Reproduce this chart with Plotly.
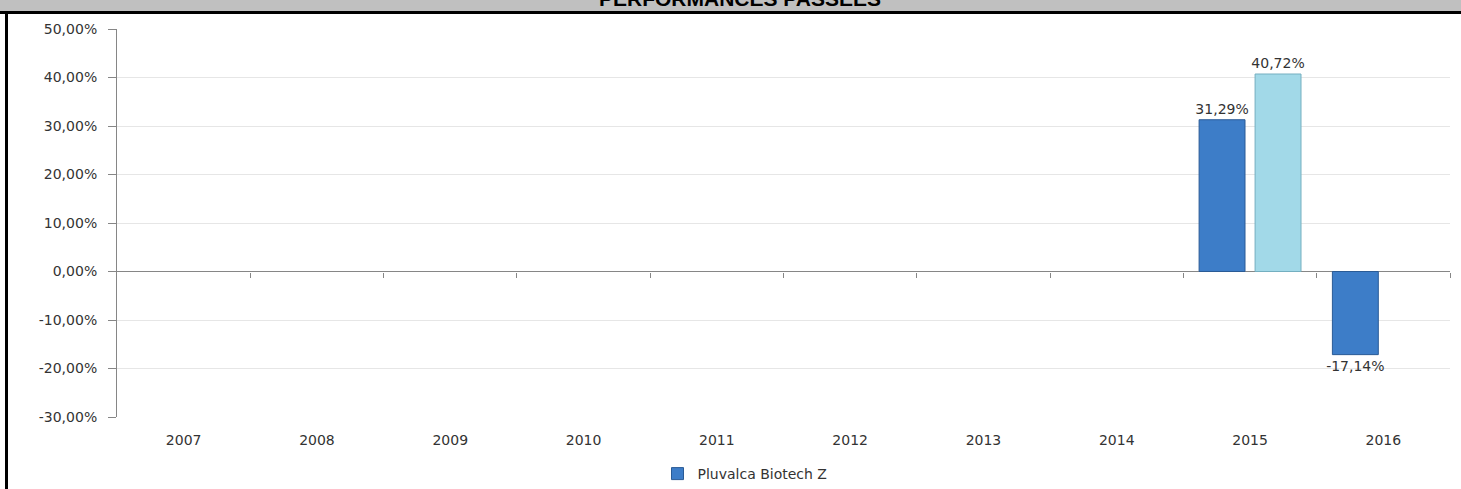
import plotly.graph_objects as go

years = ["2007", "2008", "2009", "2010", "2011", "2012", "2013", "2014", "2015", "2016"]
fund_values = [None, None, None, None, None, None, None, None, 31.29, -17.14]
second_values = [None, None, None, None, None, None, None, None, 40.72, None]
y_ticks = [-30, -20, -10, 0, 10, 20, 30, 40, 50]
y_tick_labels = ["-30,00%", "-20,00%", "-10,00%", "0,00%", "10,00%", "20,00%", "30,00%", "40,00%", "50,00%"]
boundaries = [i + 0.5 for i in range(len(years))]

W, H = 1461, 489
ML, MR, MT, MB = 117, 11, 29, 72
plot_h = H - MT - MB
plot_w = W - ML - MR


def py(p):
    return (H - MB - p) / plot_h


def px(p):
    return (p - ML) / plot_w


def fmt(v):
    return None if v is None else ("%.2f%%" % v).replace(".", ",")


FONT = "DejaVu Sans"

fig = go.Figure()
fig.add_trace(go.Bar(
    x=years, y=fund_values, name="Pluvalca Biotech Z",
    marker=dict(color="#3D7DC8", line=dict(color="#2A5B96", width=1)),
    text=[fmt(v) for v in fund_values], textposition="outside", constraintext="none",
    textfont=dict(family=FONT, size=14, color="#333333"),
    cliponaxis=False,
))
fig.add_trace(go.Bar(
    x=years, y=second_values, name="Indice", showlegend=False,
    marker=dict(color="#A2D9E8", line=dict(color="#74AFC0", width=1)),
    text=[fmt(v) for v in second_values], textposition="outside", constraintext="none",
    textfont=dict(family=FONT, size=14, color="#333333"),
    cliponaxis=False,
))
# helper trace for the boundary ticks axis on the zero line
fig.add_trace(go.Scatter(x=[], y=[], xaxis="x2", yaxis="y", showlegend=False, hoverinfo="skip"))

ymin, ymax = min(y_ticks), max(y_ticks)

fig.update_layout(
    width=W, height=H,
    margin=dict(l=ML, r=MR, t=MT, b=MB, autoexpand=False),
    paper_bgcolor="white", plot_bgcolor="white",
    barmode="group", bargap=0.16, bargroupgap=0.18,
    font=dict(family=FONT, size=14, color="#333333"),
    xaxis=dict(
        type="category", categoryorder="array", categoryarray=years,
        range=[-0.5, len(years) - 0.5],
        showline=False, showgrid=False, ticks="", zeroline=False,
        tickfont=dict(family=FONT, size=14, color="#333333"),
        ticklabelstandoff=13,
    ),
    xaxis2=dict(
        overlaying="x", anchor="free", position=(0 - ymin) / (ymax - ymin),
        range=[-0.5, len(years) - 0.5], type="linear",
        tickvals=boundaries, ticks="outside", ticklen=5, tickcolor="#868686",
        showticklabels=False, showgrid=False, showline=False, zeroline=False,
    ),
    yaxis=dict(
        range=[ymin, ymax], tickvals=y_ticks, ticktext=y_tick_labels,
        showline=True, linecolor="#868686", linewidth=1,
        ticks="outside", ticklen=8, tickcolor="#868686",
        showgrid=True, gridcolor="#E6E6E6", gridwidth=1,
        zeroline=True, zerolinecolor="#868686", zerolinewidth=1,
        tickfont=dict(family=FONT, size=14, color="#333333"),
        ticklabelstandoff=8,
    ),
    legend=dict(
        orientation="h", x=px(745), xanchor="center", y=py(474), yanchor="middle",
        font=dict(family=FONT, size=14, color="#333333"),
        itemwidth=30,
    ),
    shapes=[
        dict(type="rect", xref="paper", yref="paper", x0=px(-10), x1=px(W + 10),
             y0=py(11), y1=py(-10), fillcolor="#C0C0C0", line=dict(width=0), layer="above"),
        dict(type="line", xref="paper", yref="paper", x0=px(-10), x1=px(W + 10),
             y0=py(12.5), y1=py(12.5), line=dict(color="black", width=3), layer="above"),
        dict(type="line", xref="paper", yref="paper", x0=px(6.5), x1=px(6.5),
             y0=py(H + 10), y1=py(11), line=dict(color="black", width=3), layer="above"),
    ],
    annotations=[
        dict(text="<b>PERFORMANCES PASSEES</b>", xref="paper", yref="paper",
             x=px(740), y=py(-1.5), xanchor="center", yanchor="middle",
             showarrow=False, font=dict(family="Liberation Sans", size=21, color="black")),
    ],
)

fig.write_html("out.html")
